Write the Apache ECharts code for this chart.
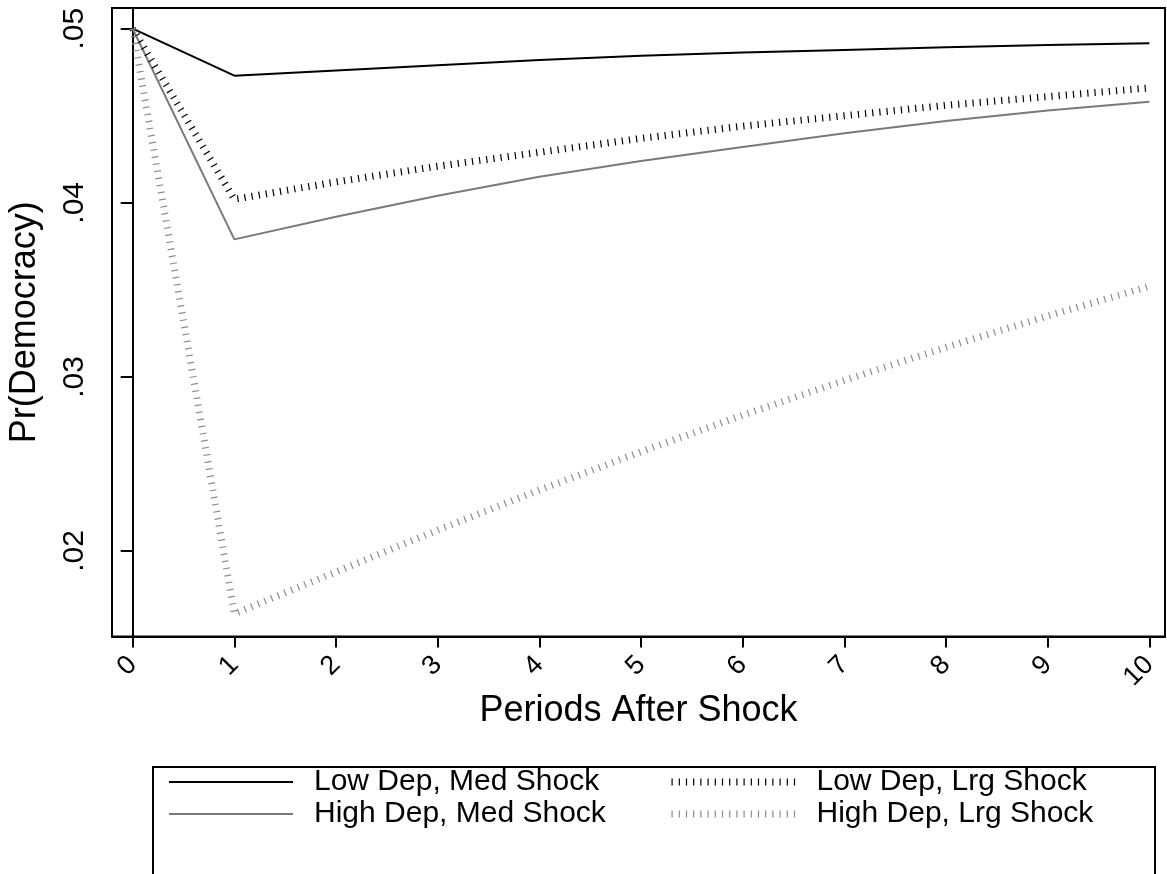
<!DOCTYPE html>
<html>
<head>
<meta charset="utf-8">
<script src="https://cdn.jsdelivr.net/npm/echarts@6/dist/echarts.min.js"></script>
<style>
    html, body { margin: 0; padding: 0; background: #fff; }
    #chart { width: 1167px; height: 874px; }
</style>
</head>
<body>
<div id="chart"></div>
<script>
// periods after the shock
const periods = [0, 1, 2, 3, 4, 5, 6, 7, 8, 9, 10];

// Pr(Democracy) per scenario
const lowDepMed = [0.0500, 0.0473, 0.0476, 0.0479, 0.0482, 0.04845, 0.04864, 0.04878, 0.04893, 0.04906, 0.04916];
const highDepMed = [0.0500, 0.0379, 0.0392, 0.0404, 0.0415, 0.0424, 0.0432, 0.0440, 0.0447, 0.0453, 0.0458];
const lowDepLrg = [0.0500, 0.0402, 0.0412, 0.0421, 0.0429, 0.0437, 0.0444, 0.0450, 0.0456, 0.0461, 0.0466];
const highDepLrg = [0.0500, 0.0164, 0.0188, 0.0212, 0.0235, 0.0257, 0.0278, 0.0298, 0.0317, 0.0335, 0.0352];

const seriesNames = ['Low Dep, Med Shock', 'High Dep, Med Shock', 'Low Dep, Lrg Shock', 'High Dep, Lrg Shock'];

// tick labels
const xTicks = [0, 1, 2, 3, 4, 5, 6, 7, 8, 9, 10];
const yTicks = [0.02, 0.03, 0.04, 0.05];

const font = "'Liberation Sans', Arial, Helvetica, sans-serif";

const chart = echarts.init(document.getElementById('chart'));

const styles = [
    { color: '#000', width: 2, type: 'solid' },
    { color: '#7a7a7a', width: 2, type: 'solid' },
    { color: '#000', width: 7, type: [1.2, 6], cap: 'butt' },
    { color: '#8c8c8c', width: 7, type: [1.2, 6], cap: 'butt' }
];

const values = [lowDepMed, highDepMed, lowDepLrg, highDepLrg];

const series = values.map((arr, i) => ({
    name: seriesNames[i],
    type: 'line',
    data: periods.map((p, j) => [p, arr[j]]),
    symbol: 'none',
    lineStyle: styles[i],
    itemStyle: { color: styles[i].color },
    animation: false
}));

const legendBase = {
    orient: 'vertical',
    top: 767,
    itemWidth: 124,
    itemHeight: 16,
    itemGap: 2,
    padding: 0,
    itemStyle: { opacity: 0 },
    lineStyle: { width: 'inherit' },
    textStyle: {
        fontFamily: font,
        fontSize: 30,
        color: '#000',
        padding: [0, 0, 0, 16]
    }
};

const option = {
    backgroundColor: '#fff',
    animation: false,
    grid: {
        left: 112,
        right: 2,
        top: 8,
        bottom: 237.5,
        containLabel: false,
        outerBoundsMode: 'none',
        show: true,
        borderColor: '#000',
        borderWidth: 2
    },
    xAxis: {
        type: 'value',
        min: -0.2036,
        max: 10.154,
        name: 'Periods After Shock',
        nameLocation: 'middle',
        nameGap: 57,
        nameMoveOverlap: false,
        nameTextStyle: { fontFamily: font, fontSize: 36, color: '#000' },
        axisLine: { show: true, lineStyle: { color: '#000', width: 2 } },
        axisTick: { show: true, customValues: xTicks, length: 11, lineStyle: { color: '#000', width: 2 } },
        axisLabel: {
            customValues: xTicks,
            rotate: 45,
            margin: 24,
            fontFamily: font,
            fontSize: 27,
            color: '#000'
        },
        splitLine: { show: false }
    },
    yAxis: {
        type: 'value',
        min: 0.015089,
        max: 0.051189,
        name: 'Pr(Democracy)',
        nameLocation: 'middle',
        nameGap: 69,
        nameMoveOverlap: false,
        nameTextStyle: { fontFamily: font, fontSize: 36, color: '#000' },
        axisLine: { show: true, lineStyle: { color: '#000', width: 2 } },
        axisTick: { show: true, customValues: yTicks, length: 12, lineStyle: { color: '#000', width: 2 } },
        axisLabel: {
            customValues: yTicks,
            rotate: 90,
            margin: 22,
            fontFamily: font,
            fontSize: 30,
            color: '#000',
            formatter: v => v.toFixed(2).replace(/^0/, '')
        },
        splitLine: { show: false }
    },
    legend: [
        Object.assign({}, legendBase, { left: 168, data: [seriesNames[0], seriesNames[1]] }),
        Object.assign({}, legendBase, { left: 668, data: [seriesNames[2], seriesNames[3]] })
    ],
    graphic: [{
        type: 'rect',
        shape: { x: 153, y: 767, width: 1002, height: 160 },
        style: { fill: 'none', stroke: '#000', lineWidth: 2 },
        silent: true
    }],
    series: series
};

chart.setOption(option);
window.addEventListener('resize', () => {
    chart.resize();
});
</script>
</body>
</html>
